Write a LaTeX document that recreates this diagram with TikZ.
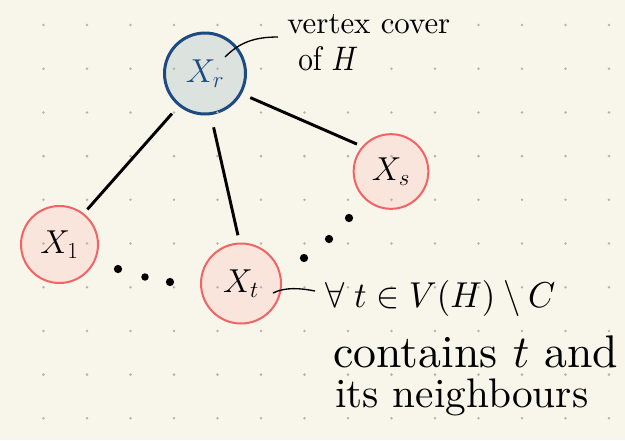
\documentclass[tikz,border=0pt]{standalone}
\usepackage{graphicx}
\newlength\pxu \setlength\pxu{0.75pt}
\definecolor{bgc}{HTML}{F8F6EB}
\definecolor{gridc}{HTML}{B5B5AE}
\definecolor{bluestroke}{HTML}{1C4A82}
\definecolor{bluefill}{HTML}{DCE2DE}
\definecolor{pinkstroke}{HTML}{F26464}
\definecolor{pinkfill}{HTML}{F9E5DB}
\tikzset{
  bagroot/.style={circle, draw=bluestroke, fill=bluefill, line width=2.25pt, inner sep=0pt, text=bluestroke, font=\fontsize{27}{27}\selectfont},
  bagleaf/.style={circle, draw=pinkstroke, fill=pinkfill, line width=1.5pt, inner sep=0pt, text=black, font=\fontsize{27}{27}\selectfont},
  treeedge/.style={line width=2.2pt, black},
  ellipsisdot/.style={circle, fill=black, inner sep=0pt, minimum size=6.2pt},
  pointer/.style={line width=1pt, black},
  hand/.style={inner sep=0pt, text=black}
}
\begin{document}
\begin{tikzpicture}[x=0.75pt,y=-0.75pt]
\useasboundingbox (0,0) rectangle (625,440);
\fill[bgc] (0,0) rectangle (625,440);

% bags
\node[bagroot, minimum size=60.75pt] (xr) at (205,73.5) {$X_r$};
\node[bagleaf, minimum size=57.75pt] (x1) at (59.5,244.5) {$X_1$};
\node[bagleaf, minimum size=60pt] (xt) at (241,283.5) {$X_t$};
\node[bagleaf, minimum size=56pt] (xs) at (391,171.5) {$X_s$};

% grid dots
\foreach \i in {1,...,14}{
  \foreach \j in {0,...,9}{
    \fill[gridc] ({43.5*\i},{25+43.7*\j}) circle[radius=1.4];
  }
}

% tree edges
\draw[treeedge, shorten <=7.5pt, shorten >=4pt] (xr.-129.5) -- (x1.52.2);
\draw[treeedge, shorten <=9.4pt, shorten >=5.6pt] (xr.-82.6) -- (xt.92.4);
\draw[treeedge, shorten <=7pt, shorten >=4.2pt] (xr.-29) -- (xs.139.2);

% ellipsis dots
\node[ellipsisdot] (d1) at (118,269) {};
\node[ellipsisdot, minimum size=5.6pt] (d2) at (145,277) {};
\node[ellipsisdot] (d3) at (170,282) {};
\node[ellipsisdot] (d4) at (304,258) {};
\node[ellipsisdot] (d5) at (329,239) {};
\node[ellipsisdot] (d6) at (349,218) {};

% annotation pointers
\coordinate (pr1) at (225,57);
\coordinate (pr2) at (278,37);
\draw[pointer] (pr1) .. controls (240,42) and (255,37) .. (pr2);
\coordinate (pt1) at (273,293);
\coordinate (pt2) at (315,291);
\draw[pointer] (pt1) .. controls (285,287) and (300,288) .. (pt2);

% texts
\node[hand, anchor=base west] (vc) at (287,33) {\resizebox{163\pxu}{19\pxu}{vertex cover}};
\node[hand, anchor=base west] (oh) at (298,70) {\resizebox{60\pxu}{24\pxu}{of $H$}};
\node[hand, anchor=base west] (fa) at (325,307) {\resizebox{230\pxu}{27\pxu}{$\forall\; t \in V(H) \setminus C$}};
\node[hand, anchor=base west] (ct) at (333,367) {\resizebox{285\pxu}{!}{contains $t$ and}};
\node[hand, anchor=base west] (nb) at (335,407) {\resizebox{253\pxu}{!}{its neighbours}};
\end{tikzpicture}
\end{document}
